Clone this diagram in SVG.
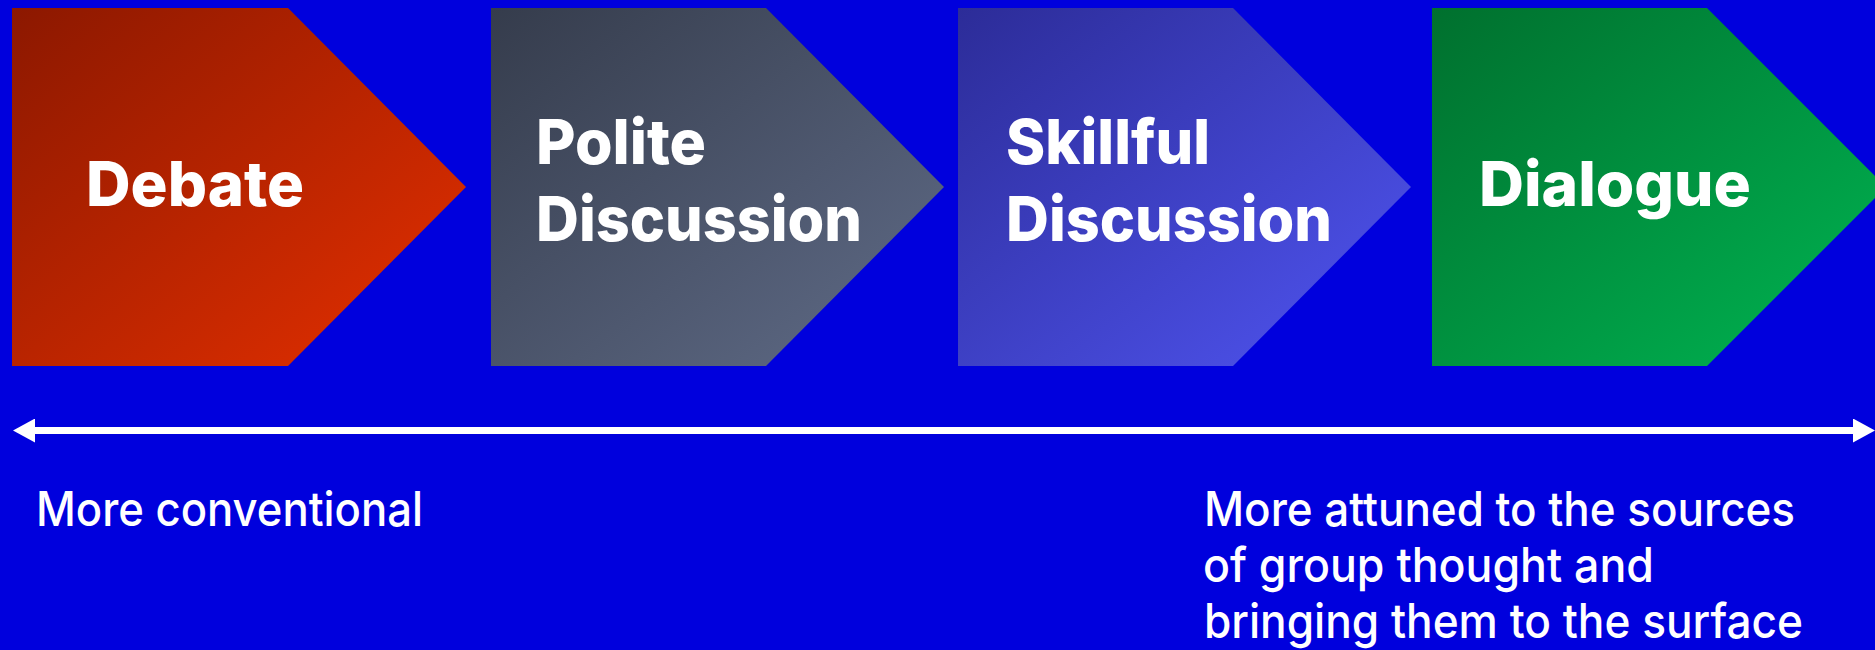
<svg xmlns="http://www.w3.org/2000/svg" width="1875" height="650" viewBox="0 0 1875 650">
  <style>
    .lbl { font-family: "Inter", "Lato", "Liberation Sans", sans-serif; font-weight: 800; font-size: 62px; fill: #ffffff; }
    .note { font-family: "Inter", "Lato", "Liberation Sans", sans-serif; font-weight: 500; font-size: 48px; fill: #ffffff; }
    .axis { stroke: #ffffff; stroke-width: 7; fill: none; }
  </style>
  <defs>
    <linearGradient id="gDebate" x1="0" y1="0" x2="1" y2="1">
      <stop offset="0" stop-color="#8C1800"/>
      <stop offset="1" stop-color="#E63000"/>
    </linearGradient>
    <linearGradient id="gPolite" x1="0" y1="0" x2="1" y2="1">
      <stop offset="0" stop-color="#353C4C"/>
      <stop offset="1" stop-color="#606C88"/>
    </linearGradient>
    <linearGradient id="gSkill" x1="0" y1="0" x2="1" y2="1">
      <stop offset="0" stop-color="#2C2C98"/>
      <stop offset="1" stop-color="#5055F2"/>
    </linearGradient>
    <linearGradient id="gDialog" x1="0" y1="0" x2="1" y2="1">
      <stop offset="0" stop-color="#00702E"/>
      <stop offset="1" stop-color="#00B552"/>
    </linearGradient>
    <marker id="ah" viewBox="0 0 22 24" refX="0" refY="12" markerWidth="22" markerHeight="24" markerUnits="userSpaceOnUse" orient="auto-start-reverse">
      <path d="M0,0 L22,12 L0,24 Z" fill="#ffffff"/>
    </marker>
  </defs>
  <rect x="0" y="0" width="1875" height="650" fill="#0000DD"/>

  <g id="node-debate">
    <polygon points="12,8 288,8 466,187 288,366 12,366" fill="url(#gDebate)"/>
    <text class="lbl" x="86" y="206" textLength="218" lengthAdjust="spacingAndGlyphs">Debate</text>
  </g>
  <g id="node-polite">
    <polygon points="491,8 766,8 944,187 766,366 491,366" fill="url(#gPolite)"/>
    <text class="lbl" x="536" y="164" textLength="170" lengthAdjust="spacingAndGlyphs">Polite</text>
    <text class="lbl" x="536" y="241" textLength="326" lengthAdjust="spacingAndGlyphs">Discussion</text>
  </g>
  <g id="node-skillful">
    <polygon points="958,8 1233,8 1411,187 1233,366 958,366" fill="url(#gSkill)"/>
    <text class="lbl" x="1006" y="164" textLength="204" lengthAdjust="spacingAndGlyphs">Skillful</text>
    <text class="lbl" x="1006" y="241" textLength="326" lengthAdjust="spacingAndGlyphs">Discussion</text>
  </g>
  <g id="node-dialogue">
    <polygon points="1432,8 1707,8 1886,187 1707,366 1432,366" fill="url(#gDialog)"/>
    <text class="lbl" x="1479" y="206" textLength="272" lengthAdjust="spacingAndGlyphs">Dialogue</text>
  </g>

  <g id="connectors">
    <line class="axis" x1="35" y1="430.5" x2="1853" y2="430.5" marker-start="url(#ah)" marker-end="url(#ah)"/>
  </g>

  <g id="label-left">
    <text class="note" x="36" y="526" textLength="387" lengthAdjust="spacingAndGlyphs">More conventional</text>
  </g>
  <g id="label-right">
    <text class="note" x="1204" y="526" textLength="591" lengthAdjust="spacingAndGlyphs">More attuned to the sources</text>
    <text class="note" x="1203" y="582" textLength="451" lengthAdjust="spacingAndGlyphs">of group thought and</text>
    <text class="note" x="1204" y="638" textLength="599" lengthAdjust="spacingAndGlyphs">bringing them to the surface</text>
  </g>
</svg>
